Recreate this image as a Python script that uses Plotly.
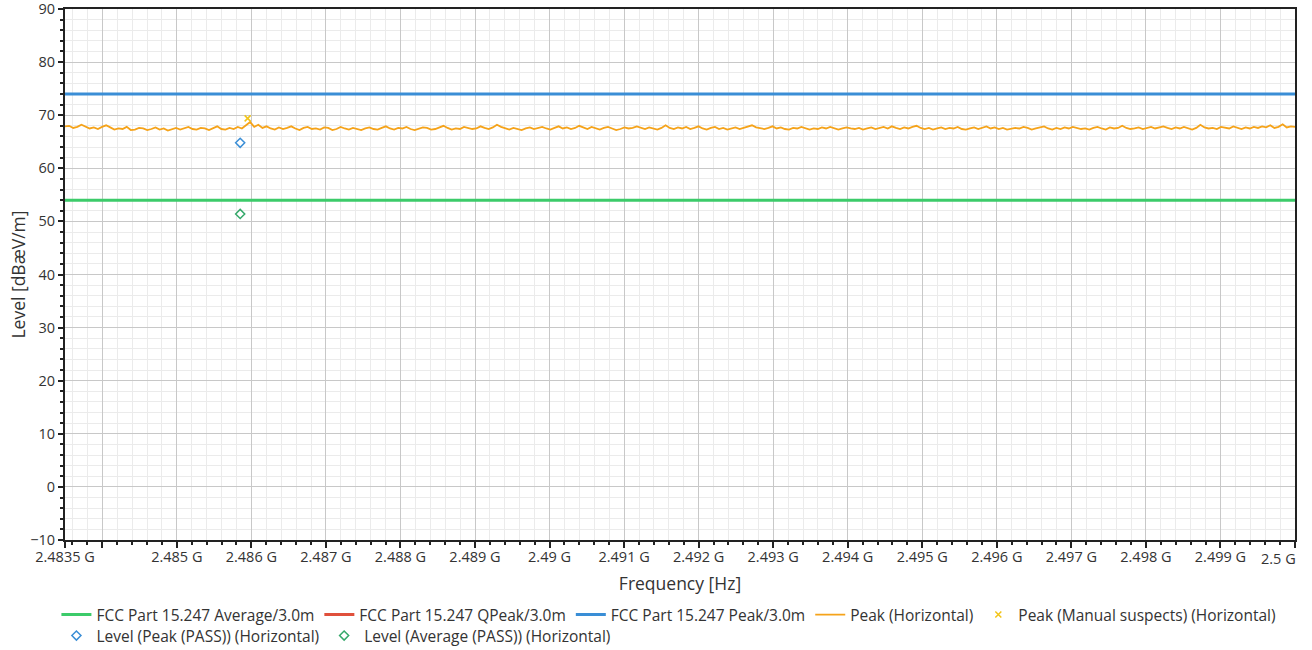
import plotly.graph_objects as go
import numpy as np

# ---- data ----
f_start_hz = 2.4835e9
f_stop_hz = 2.5e9

peak_levels = [
    67.9, 68.0, 67.6, 67.8, 68.2, 67.9, 67.5, 67.7, 67.4, 67.8,
    68.1, 67.7, 67.3, 67.5, 67.4, 67.8, 67.2, 67.3, 67.6, 67.5,
    67.2, 67.4, 67.7, 67.3, 67.5, 67.1, 67.4, 67.6, 67.3, 67.5,
    67.8, 67.4, 67.3, 67.6, 67.5, 67.2, 67.6, 67.9, 67.4, 67.3,
    67.6, 67.4, 67.8, 67.5, 68.1, 68.7, 67.8, 68.2, 67.6, 67.9,
    67.5, 67.3, 67.7, 67.4, 67.6, 67.9, 67.5, 67.2, 67.6, 67.8,
    67.4, 67.5, 67.3, 67.7, 67.6, 67.2, 67.4, 67.8, 67.5, 67.3,
    67.6, 67.4, 67.2, 67.5, 67.7, 67.4, 67.3, 67.6, 67.9, 67.5,
    67.3, 67.6, 67.5, 67.8, 67.4, 67.2, 67.5, 67.7, 67.6, 67.3,
    67.4, 67.7, 68.0, 67.6, 67.3, 67.5, 67.4, 67.8, 67.6, 67.4,
    67.5, 67.9, 67.6, 67.4, 67.7, 68.2, 67.8, 67.5, 67.3, 67.6,
    67.4, 67.2, 67.5, 67.7, 67.4, 67.6, 67.8, 67.5, 67.3, 67.6,
    67.9, 67.5, 67.7, 67.4, 67.6, 68.0, 67.7, 67.4, 67.8, 67.5,
    67.3, 67.6, 67.8, 67.5, 67.2, 67.4, 67.7, 67.5, 67.6, 67.9,
    67.6, 67.4, 67.7, 67.5, 67.3, 67.6, 68.1, 67.6, 67.4, 67.7,
    67.5, 67.8, 67.4, 67.6, 67.9, 67.5, 67.3, 67.6, 67.8, 67.4,
    67.6, 67.3, 67.5, 67.7, 67.4, 67.6, 67.8, 68.1, 67.7, 67.5,
    67.4, 67.6, 67.9, 67.5, 67.7, 67.4, 67.3, 67.6, 67.5, 67.8,
    67.6, 67.3, 67.5, 67.4, 67.7, 67.5, 67.8, 67.6, 67.3, 67.5,
    67.7, 67.5, 67.4, 67.6, 67.3, 67.5, 67.7, 67.4, 67.6, 67.8,
    67.5, 67.9, 67.6, 67.4, 67.7, 67.5, 67.8, 68.0, 67.6, 67.4,
    67.6, 67.3, 67.5, 67.7, 67.4, 67.6, 67.5, 67.8, 67.4, 67.3,
    67.5, 67.7, 67.4, 67.6, 67.9, 67.5, 67.7, 67.4, 67.6, 67.3,
    67.4, 67.6, 67.5, 67.8, 67.6, 67.3, 67.5, 67.7, 67.9, 67.5,
    67.3, 67.6, 67.4, 67.7, 67.5, 67.8, 67.6, 67.4, 67.5, 67.3,
    67.6, 67.8, 67.5, 67.3, 67.7, 67.5, 67.6, 68.0, 67.6, 67.4,
    67.5, 67.7, 67.4, 67.6, 67.8, 67.5, 67.7, 67.9, 67.6, 67.4,
    67.7, 67.5, 67.8, 67.6, 67.3, 67.6, 68.2, 67.7, 67.5, 67.6,
    67.4, 67.8, 67.6, 67.5, 67.9, 67.6, 67.4, 67.7, 67.5, 67.8,
    67.6, 67.9, 67.7, 68.1, 67.6, 67.8, 68.3, 67.7, 67.9, 67.8,
]
peak_freqs = np.linspace(f_start_hz, f_stop_hz, len(peak_levels))

limit_avg = 54.0
limit_peak = 74.0

suspect_freq = [2.48595e9]
suspect_level = [69.4]

final_peak_freq = [2.48585e9]
final_peak_level = [64.8]
final_avg_freq = [2.48585e9]
final_avg_level = [51.4]

tick_vals = [2.4835e9, 2.484e9, 2.485e9, 2.486e9, 2.487e9, 2.488e9, 2.489e9, 2.49e9,
             2.491e9, 2.492e9, 2.493e9, 2.494e9, 2.495e9, 2.496e9, 2.497e9,
             2.498e9, 2.499e9, 2.5e9]
tick_text = ["2.4835 G", "", "2.485 G", "2.486 G", "2.487 G", "2.488 G", "2.489 G", "2.49 G",
             "2.491 G", "2.492 G", "2.493 G", "2.494 G", "2.495 G", "2.496 G", "2.497 G",
             "2.498 G", "2.499 G", ""]
last_tick_label = "2.5 G"

GREEN = "#3ccb6a"
RED = "#e0503c"
BLUE = "#3a8ed6"
ORANGE = "#f5a31a"
YELLOW = "#f2c418"

fig = go.Figure()
fig.add_trace(go.Scatter(x=[f_start_hz, f_stop_hz], y=[limit_avg, limit_avg], mode="lines",
                         line=dict(color=GREEN, width=3), name="FCC Part 15.247 Average/3.0m",
                         legend="legend"))
fig.add_trace(go.Scatter(x=[None], y=[None], mode="lines",
                         line=dict(color=RED, width=3), name="FCC Part 15.247 QPeak/3.0m",
                         legend="legend"))
fig.add_trace(go.Scatter(x=[f_start_hz, f_stop_hz], y=[limit_peak, limit_peak], mode="lines",
                         line=dict(color=BLUE, width=3), name="FCC Part 15.247 Peak/3.0m",
                         legend="legend"))
fig.add_trace(go.Scatter(x=peak_freqs, y=peak_levels, mode="lines",
                         line=dict(color=ORANGE, width=1.8), name="Peak (Horizontal)",
                         legend="legend"))
fig.add_trace(go.Scatter(x=suspect_freq, y=suspect_level, mode="markers",
                         marker=dict(symbol="x-thin", size=6, color=YELLOW,
                                     line=dict(color=YELLOW, width=1.5)),
                         name="Peak (Manual suspects) (Horizontal)", legend="legend"))
fig.add_trace(go.Scatter(x=final_peak_freq, y=final_peak_level, mode="markers",
                         marker=dict(symbol="diamond-open", size=7, color=BLUE,
                                     line=dict(width=1.5)),
                         name="Level (Peak (PASS)) (Horizontal)", legend="legend2"))
fig.add_trace(go.Scatter(x=final_avg_freq, y=final_avg_level, mode="markers",
                         marker=dict(symbol="diamond-open", size=7, color="#35a86a",
                                     line=dict(width=1.5)),
                         name="Level (Average (PASS)) (Horizontal)", legend="legend2"))

# last x tick label, pulled inside the figure edge as in the reference
fig.add_annotation(x=f_stop_hz, xref="x", y=0, yref="paper", yanchor="top", xanchor="right",
                   text=last_tick_label, showarrow=False, xshift=3, yshift=-7,
                   font=dict(size=14.5, color="#333"))

legend_common = dict(orientation="h", xref="container", yref="container",
                     xanchor="left", yanchor="middle",
                     font=dict(size=15.5, color="#333333"), traceorder="normal",
                     itemwidth=30, bgcolor="rgba(0,0,0,0)")

fig.update_layout(
    width=1312, height=650,
    margin=dict(l=65, r=17, t=9, b=110, autoexpand=False),
    plot_bgcolor="white", paper_bgcolor="white",
    font=dict(family="Open Sans, Noto Sans, sans-serif", size=13, color="#333333"),
    showlegend=True,
    legend=dict(x=0.043, y=(650 - 615) / 650, **legend_common),
    legend2=dict(x=0.043, y=(650 - 636) / 650, **legend_common),
    xaxis=dict(
        range=[f_start_hz, f_stop_hz], automargin=False,
        tickmode="array", tickvals=tick_vals, ticktext=tick_text,
        ticks="outside", ticklen=6, tickcolor="#222", tickwidth=1.5,
        ticklabeloverflow="allow", ticklabelstandoff=-3,
        showline=True, linecolor="#222", linewidth=2, mirror=True,
        showgrid=True, gridcolor="#c8c8c8", gridwidth=1.2,
        zeroline=False,
        minor=dict(tick0=2.484e9, dtick=0.2e6, showgrid=True, gridcolor="#ebebeb",
                   gridwidth=1, ticks="outside", ticklen=3, tickcolor="#222"),
        title=dict(text="Frequency [Hz]", font=dict(size=17.5, color="#333"), standoff=12),
        tickfont=dict(size=14.5, color="#333"),
    ),
    yaxis=dict(
        range=[-10, 90], tick0=-10, dtick=10, automargin=False,
        ticks="outside", ticklen=5, tickcolor="#222", tickwidth=1.5,
        ticklabeloverflow="allow",
        showline=True, linecolor="#222", linewidth=2, mirror=True,
        showgrid=True, gridcolor="#c8c8c8", gridwidth=1.2,
        zeroline=False,
        minor=dict(dtick=2, showgrid=True, gridcolor="#ebebeb", gridwidth=1,
                   ticks="outside", ticklen=3, tickcolor="#222"),
        title=dict(text="Level [dBæV/m]", font=dict(size=17.5, color="#333"), standoff=0),
        tickfont=dict(size=14.5, color="#333"),
    ),
)

fig.write_html("out.html", config={"displayModeBar": False},
               post_script="document.body.style.margin='0';")
